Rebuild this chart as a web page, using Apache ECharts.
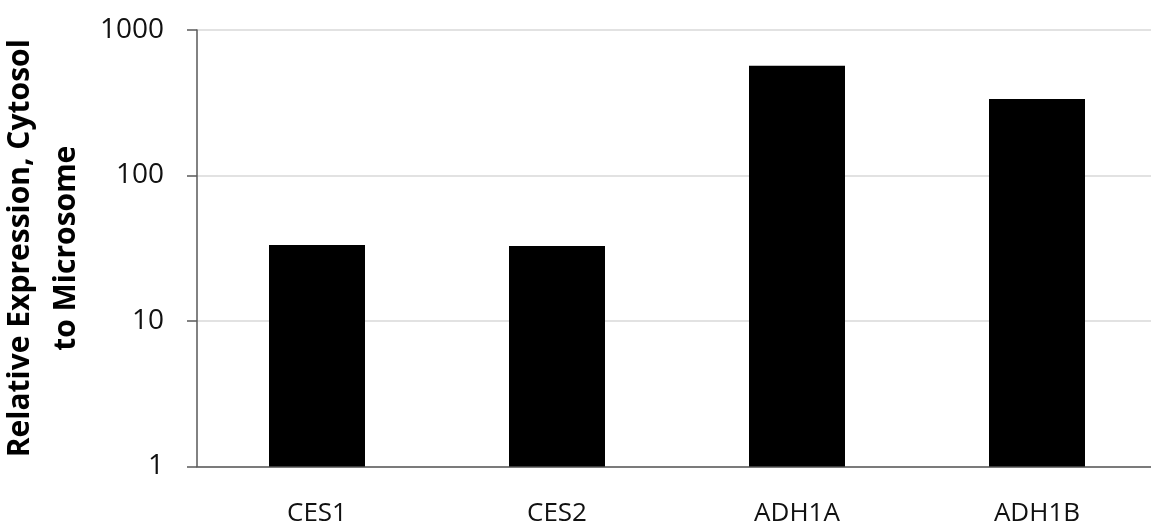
<!DOCTYPE html>
<html>
<head>
<meta charset="utf-8">
<script src="https://cdn.jsdelivr.net/npm/echarts@6/dist/echarts.min.js"></script>
<style>
  html, body { margin: 0; padding: 0; background: #fff; }
  #chart { width: 1151px; height: 529px; }
</style>
</head>
<body>
<div id="chart"></div>
<script>
// Enzymes compared
const categories = ['CES1', 'CES2', 'ADH1A', 'ADH1B'];
// Cytosol-to-microsome expression ratio for each enzyme
const ratios = [33.3, 32.8, 568, 336];
// Log-scale limits of the value axis
const yMin = 1;
const yMax = 1000;

const FONT = '"Open Sans", "Noto Sans", sans-serif';

const chart = echarts.init(document.getElementById('chart'), null, { renderer: 'canvas' });

chart.setOption({
  animation: false,
  backgroundColor: '#ffffff',
  grid: {
    left: 197, right: -6, top: 30, bottom: 62.5,
    containLabel: false,
    outerBoundsMode: 'none'
  },
  xAxis: {
    type: 'category',
    data: categories,
    axisLine: { show: true, lineStyle: { color: '#595959', width: 1.5 } },
    axisTick: { show: false },
    axisLabel: { color: '#111', fontFamily: FONT, fontSize: 26, margin: 34 },
    splitLine: { show: false }
  },
  yAxis: {
    type: 'log',
    logBase: 10,
    min: yMin,
    max: yMax,
    name: 'Relative Expression, Cytosol\nto Microsome',
    nameLocation: 'middle',
    nameRotate: 90,
    nameGap: 94,
    nameTextStyle: { color: '#000', fontFamily: FONT, fontWeight: 'bold', fontSize: 30, lineHeight: 46 },
    axisLine: { show: true, lineStyle: { color: '#595959', width: 1.5 } },
    axisTick: { show: true, inside: false, length: 10, lineStyle: { color: '#595959', width: 1.5 } },
    axisLabel: {
      color: '#111', fontFamily: FONT, fontSize: 28, margin: 33,
      formatter: (v) => String(Math.round(v))
    },
    splitLine: { show: true, lineStyle: { color: '#d9d9d9', width: 1.5 } }
  },
  series: [{
    type: 'bar',
    data: ratios,
    barWidth: '40%',
    itemStyle: { color: '#000000' },
    silent: true
  }]
});
</script>
</body>
</html>
